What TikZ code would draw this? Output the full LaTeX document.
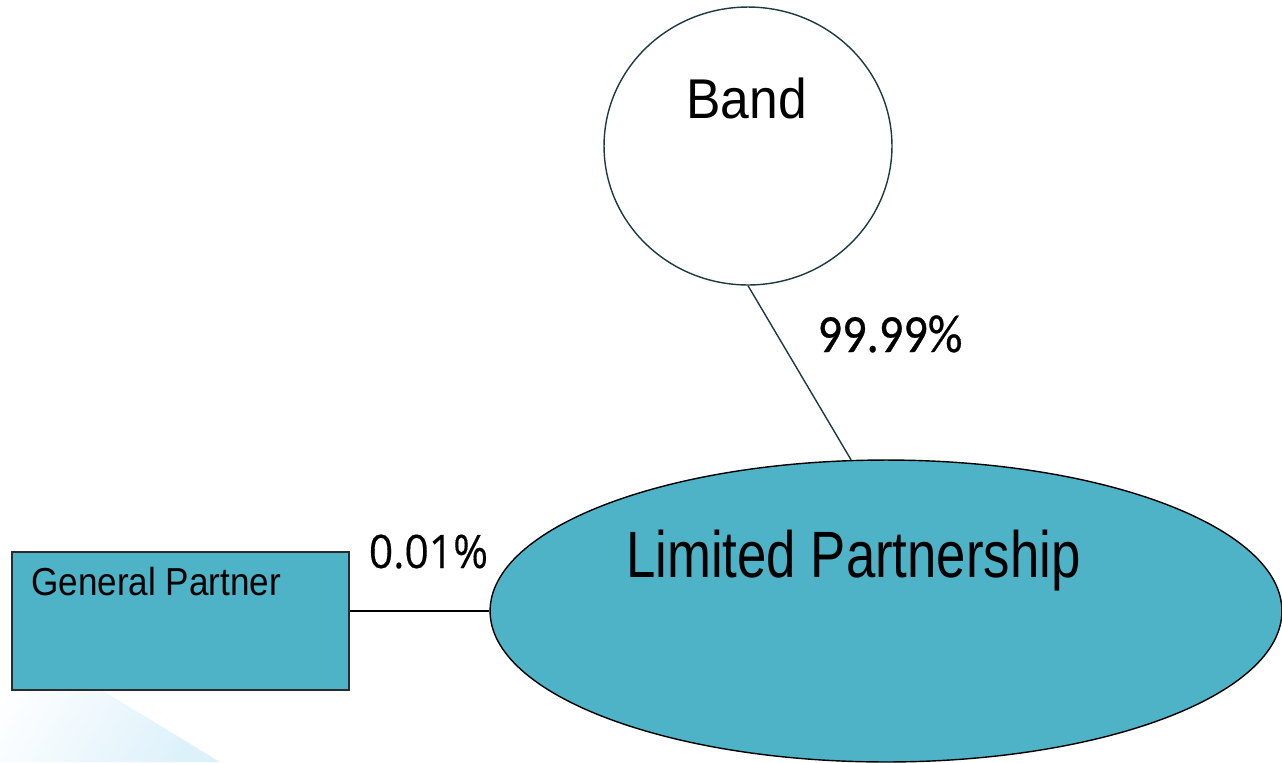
\documentclass[tikz,border=0pt]{standalone}
\usepackage{fontspec}
\usepackage{graphicx}
\usetikzlibrary{positioning,shapes.geometric,calc}
\setmainfont{Liberation Sans}
\newfontfamily\pctfont[FakeBold=0.6]{Carlito}
\newfontfamily\pctfontb[FakeBold=0.3]{Open Sans}
\definecolor{palTeal}{HTML}{4FB3C8}
\definecolor{palSlate}{HTML}{1D3A40}
\definecolor{palSky}{HTML}{DDF1FB}
\definecolor{palEdge}{HTML}{2B2B2B}
\newcommand{\squeeze}[2]{\scalebox{#1}[1]{#2}}
\tikzset{
  ovalnode/.style={draw, ellipse, inner sep=0pt, line width=0.8pt},
  boxnode/.style={draw=palEdge, fill=palTeal, rectangle, inner sep=0pt,
                  line width=0.8pt},
  txtnode/.style={inner sep=0pt, anchor=base},
  linkline/.style={line width=0.8pt},
}

\begin{document}
\begin{tikzpicture}[x=0.02cm, y=-0.02cm]
\useasboundingbox (0,0) rectangle (1282,762);
%% Background swoosh
\shade[left color=white, right color=palSky, shading angle=58.6] (0,628) -- (220,762) -- (0,762) -- cycle;
%% Shapes
\node[ovalnode, draw=palSlate, minimum width=5.76cm, minimum height=5.56cm] (band) at (748,146) {};
\node[ovalnode, draw=black, fill=palTeal, minimum width=15.84cm, minimum height=6.04cm] (lp) at (886,611) {};
\node[boxnode, minimum width=6.74cm, minimum height=2.76cm] (gp) at (180.5,621) {};
%% Texts
\node[txtnode, font=\fontsize{31.9}{36}\selectfont] (bandtxt) at (746.5,118) {\squeeze{0.92}{Band}};
\node[txtnode, font=\fontsize{37.3}{42}\selectfont] (lptxt) at (853.5,577) {\squeeze{0.805}{Limited Partnership}};
\node[txtnode, anchor=base west, font=\fontsize{22.2}{26}\selectfont] (gptxt) at (31,595) {\squeeze{0.9}{General Partner}};
\node[txtnode, font=\pctfont\fontsize{30.6}{34}\selectfont] (bandpct) at (890,352) {\squeeze{0.9}{99.99\%}};
\node[txtnode, font=\pctfontb\fontsize{26.3}{30}\selectfont] (gppct) at (428.5,568) {\squeeze{0.92}{0.01\%}};
%% Links
\draw[linkline, palSlate] (band.south) -- (lp.103);
\draw[linkline] (gp.east |- lp.west) -- (lp.west);
\end{tikzpicture}
\end{document}
